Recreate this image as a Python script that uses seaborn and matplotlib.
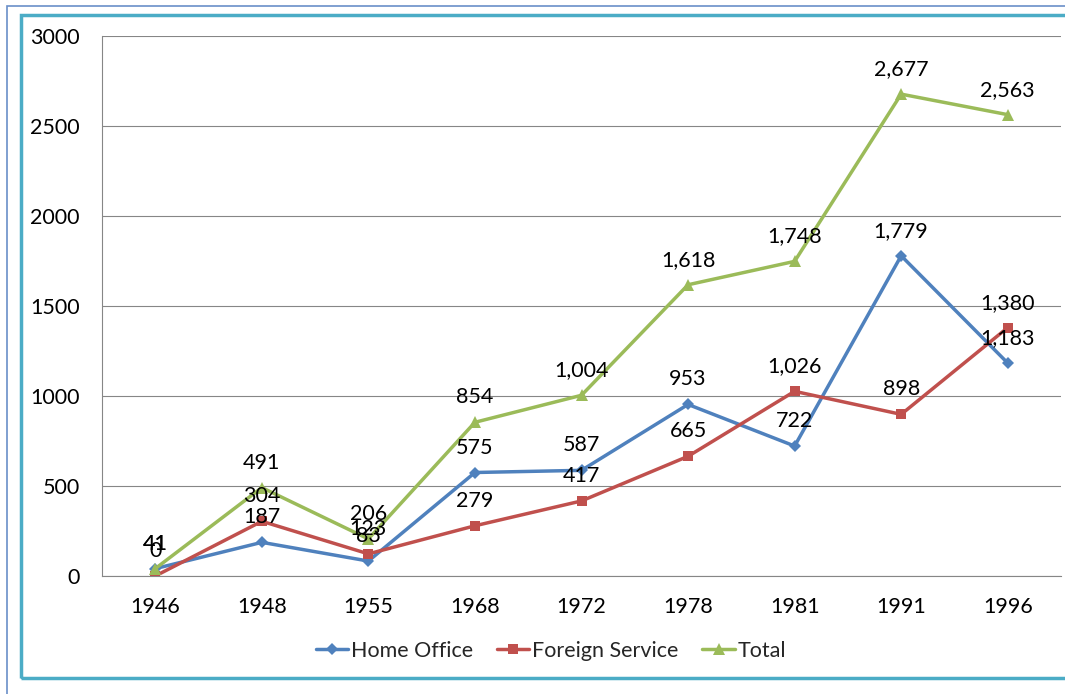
import pandas as pd
import matplotlib.pyplot as plt
import seaborn as sns
from matplotlib.patches import Rectangle

# Chart data
years = ['1946', '1948', '1955', '1968', '1972', '1978', '1981', '1991', '1996']
home_office = [41, 187, 83, 575, 587, 953, 722, 1779, 1183]
foreign_service = [0, 304, 123, 279, 417, 665, 1026, 898, 1380]
total = [41, 491, 206, 854, 1004, 1618, 1748, 2677, 2563]

series_names = ['Home Office', 'Foreign Service', 'Total']
series_values = [home_office, foreign_service, total]
colors = ['#4F81BD', '#C0504D', '#9BBB59']
marker_styles = ['D', 's', '^']
marker_sizes = [6.5, 7.5, 8.5]

sns.set_style('white')
plt.rcParams['font.family'] = ['Lato', 'DejaVu Sans']
FS = 15.5

W, H = 1065, 694
fig = plt.figure(figsize=(W / 100, H / 100), dpi=100)

# Excel-like frame borders
fig.patches.append(Rectangle((7 / W, -0.1), 1.2, 1.1 - 6 / H, transform=fig.transFigure,
                             fill=False, edgecolor='#6A8FC8', linewidth=1.2))
fig.patches.append(Rectangle((21 / W, 1 - 678 / H), 1.2, (678 - 15) / H, transform=fig.transFigure,
                             fill=False, edgecolor='#4BACC6', linewidth=2.5))

left, right, top, bottom = 102, 1061, 36, 576
ax = fig.add_axes([left / W, 1 - bottom / H, (right - left) / W, (bottom - top) / H])

df = pd.DataFrame({
    'Year': years * 3,
    'Value': home_office + foreign_service + total,
    'Series': [s for s in series_names for _ in years],
})

for name, c, m, ms in zip(series_names, colors, marker_styles, marker_sizes):
    sub = df[df['Series'] == name]
    sns.lineplot(data=sub, x='Year', y='Value', color=c, marker=m, markersize=ms,
                 markeredgewidth=0, linewidth=2.5, label=name, ax=ax, sort=False)

# Data labels above each point
for vals in series_values:
    for i, v in enumerate(vals):
        ax.annotate(f'{v:,}', (i, v), xytext=(0, 18), textcoords='offset points',
                    ha='center', va='center', fontsize=FS, color='black')

ax.set_xlim(-0.5, len(years) - 0.5)
ax.set_ylim(0, 3000)
ax.set_yticks(range(0, 3001, 500))
ax.set_yticklabels([str(v) for v in range(0, 3001, 500)])
ax.set_xticks([i - 0.5 for i in range(len(years) + 1)], minor=False)
ax.set_xticklabels([''] * (len(years) + 1))
ax.set_xticks(range(len(years)), minor=True)
ax.set_xticklabels(years, minor=True)
ax.tick_params(axis='x', which='major', length=7, color='#868686', width=1)
ax.tick_params(axis='x', which='minor', length=0, pad=15, labelsize=FS, labelcolor='black')
ax.tick_params(axis='y', length=7, color='#868686', width=1, pad=9, labelsize=FS, labelcolor='black')
ax.set_xlabel('')
ax.set_ylabel('')

ax.yaxis.grid(True, color='#868686', linewidth=0.8)
ax.set_axisbelow(True)
for s in ['top', 'right']:
    ax.spines[s].set_visible(False)
for s in ['left', 'bottom']:
    ax.spines[s].set_color('#868686')
    ax.spines[s].set_linewidth(0.8)

handles, labels = ax.get_legend_handles_labels()
ax.get_legend().remove()
fig.legend(handles, labels, loc='center', bbox_to_anchor=(551 / W, 1 - 651 / H), ncol=3,
           frameon=False, fontsize=FS, handlelength=1.5, handletextpad=0.15, columnspacing=1.1)

fig.savefig('out.png', dpi=100)
